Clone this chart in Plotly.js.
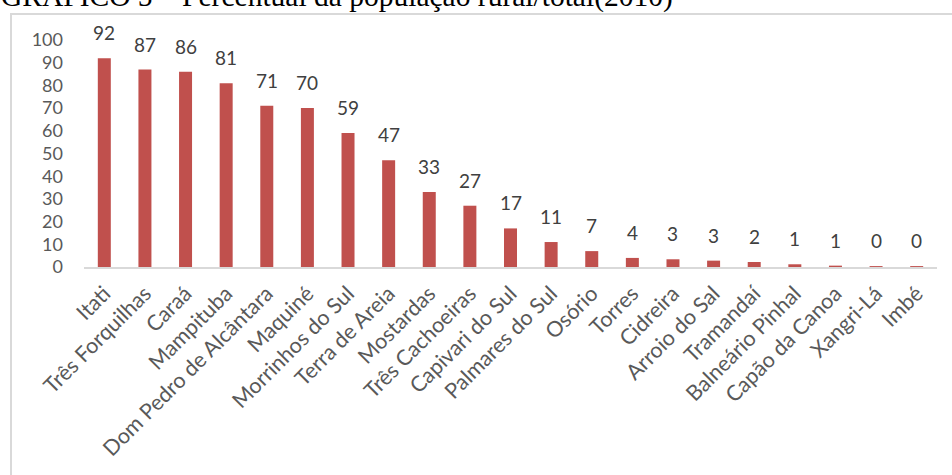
<!DOCTYPE html>
<html>
<head>
<meta charset="utf-8">
<script src="https://cdn.plot.ly/plotly-3.0.1.min.js"></script>
<style>
html,body{margin:0;padding:0;background:#fff;overflow:hidden;}
#frame{position:absolute;left:10px;top:13px;width:1000px;height:600px;border:2px solid #d9d9d9;box-sizing:border-box;pointer-events:none;}
#chart{position:absolute;left:0;top:0;width:952px;height:475px;}
</style>
</head>
<body>
<div id="chart"></div>
<div id="frame"></div>
<script>
const municipios = ["Itati","Três Forquilhas","Caraá","Mampituba","Dom Pedro de Alcântara","Maquiné","Morrinhos do Sul","Terra de Areia","Mostardas","Três Cachoeiras","Capivari do Sul","Palmares do Sul","Osório","Torres","Cidreira","Arroio do Sal","Tramandaí","Balneário Pinhal","Capão da Canoa","Xangri-Lá","Imbé"];
const percentualRural = [92,87,86,81,71,70,59,47,33,27,17,11,7,4,3.4,2.8,2.2,1.2,0.6,0.4,0.4];
const titulo = "GRÁFICO 5 – Percentual da população rural/total(2010)";

const font = "Lato, 'Open Sans', sans-serif";
const W = 952, H = 475, ML = 84, MR = 15, MT = 40, MB = 208;
const pw = W - ML - MR, ph = H - MT - MB;

const trace = {
  type: "bar",
  x: municipios,
  y: percentualRural,
  marker: {color: "#c0504d"},
  hoverinfo: "x+y"
};

const labels = municipios.map((m, i) => ({
  x: m, y: percentualRural[i], xref: "x", yref: "y",
  text: String(Math.round(percentualRural[i])),
  showarrow: false, yanchor: "bottom", yshift: 12,
  font: {family: font, size: 19, color: "#404040"}
}));

labels.push({
  text: titulo, showarrow: false,
  xref: "paper", yref: "paper",
  x: -ML / pw, xanchor: "left",
  y: 1 + (MT - 14) / ph, yanchor: "bottom",
  borderpad: 0,
  font: {family: "'Liberation Serif', 'Times New Roman', serif", size: 29.5, color: "#000"}
});

const layout = {
  width: W, height: H,
  margin: {l: ML, r: MR, t: MT, b: MB},
  paper_bgcolor: "#fff", plot_bgcolor: "#fff",
  bargap: 0.68,
  showlegend: false,
  annotations: labels,
  xaxis: {
    tickangle: -45,
    tickfont: {family: font, size: 21.5, color: "#595959"},
    showline: true, linecolor: "#d9d9d9", linewidth: 1.5,
    ticks: "", showgrid: false,
    ticklabelstandoff: 4
  },
  yaxis: {
    range: [0, 100],
    dtick: 10,
    tickfont: {family: font, size: 18, color: "#595959"},
    showgrid: false, zeroline: false, showline: false, ticks: "",
    ticklabelstandoff: 20
  }
};

Plotly.newPlot("chart", [trace], layout, {displayModeBar: false, staticPlot: true});
</script>
</body>
</html>
